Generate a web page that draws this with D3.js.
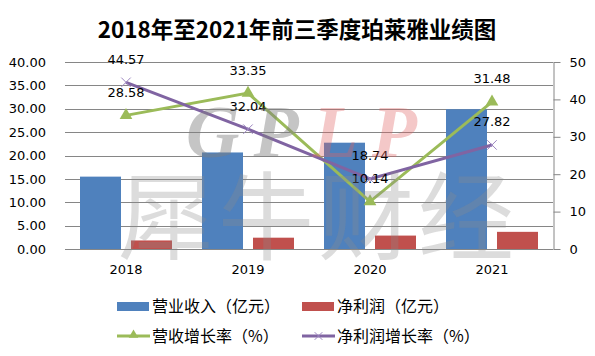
<!DOCTYPE html>
<html><head><meta charset="utf-8">
<script src="https://cdn.jsdelivr.net/npm/d3@7"></script>
<style>body{margin:0;background:#fff}svg{display:block}</style>
</head><body><svg id="c" width="595" height="356"></svg>
<script>
const categories = ["2018", "2019", "2020", "2021"];
const revenue = [15.48, 20.65, 22.74, 29.90];        // 营业收入（亿元）
const netProfit = [1.83, 2.42, 2.87, 3.67];          // 净利润（亿元）
const revenueGrowth = [28.58, 33.35, 10.14, 31.48];  // 营收增长率（%） – primary axis
const profitGrowth = [44.57, 32.04, 18.74, 27.82];   // 净利润增长率（%） – secondary axis
const leftTicks = [0, 5, 10, 15, 20, 25, 30, 35, 40];
const rightTicks = [0, 10, 20, 30, 40, 50];
const seriesNames = ["营业收入（亿元）", "净利润（亿元）", "营收增长率（%）", "净利润增长率（%）"];

const C = {blue:"#4f81bd", red:"#c0504d", green:"#9bbb59", purple:"#8064a2", grid:"#868686"};
const svg = d3.select("#c");
const L = 65, R = 553, T = 62, B = 249;
const num = "'DejaVu Sans', Verdana, sans-serif";
const cjk = "'Noto Sans CJK SC', sans-serif";

const x = d3.scaleBand().domain(categories).range([L, R]);
const sub = d3.scaleBand().domain(["rev","np"]).range([15, x.bandwidth() - 15]).paddingInner(0.196);
const yL = d3.scaleLinear().domain([0, 40]).range([B, T]);
const yR = d3.scaleLinear().domain([0, 50]).range([B, T]);

// title
svg.append("text").attr("x", 297).attr("y", 38).attr("text-anchor","middle")
  .attr("font-family", cjk).attr("font-weight","bold").attr("font-size", 22.5).attr("fill","#000")
  .text("2018年至2021年前三季度珀莱雅业绩图");

// gridlines
svg.append("g").selectAll("line").data(leftTicks).join("line")
  .attr("x1", L).attr("x2", R).attr("y1", d => Math.round(yL(d)) + 0.5).attr("y2", d => Math.round(yL(d)) + 0.5)
  .attr("stroke", C.grid).attr("stroke-width", 1);

// left axis
const gl = svg.append("g").attr("transform", `translate(${L},0)`)
  .call(d3.axisLeft(yL).tickValues(leftTicks).tickFormat(d3.format(".2f")).tickSize(0).tickPadding(19));
gl.select(".domain").remove();
gl.selectAll("text").attr("font-family", num).attr("font-size", 13).attr("fill", "#000");

// right axis
const gr = svg.append("g").attr("transform", `translate(${R + 0.5},0)`)
  .call(d3.axisRight(yR).tickValues(rightTicks).tickSize(7).tickSizeOuter(0).tickPadding(9));
gr.select(".domain").attr("stroke", C.grid);
gr.selectAll("line").attr("stroke", C.grid);
gr.selectAll("text").attr("font-family", num).attr("font-size", 13).attr("fill", "#000");

// x axis labels
const gx = svg.append("g").attr("transform", `translate(0,${B})`)
  .call(d3.axisBottom(x).tickSize(0).tickPadding(16));
gx.select(".domain").remove();
gx.selectAll("text").attr("font-family", num).attr("font-size", 13).attr("fill", "#000");

// bars
const bars = svg.append("g");
bars.selectAll(".rev").data(categories).join("rect")
  .attr("x", (d) => x(d) + sub("rev")).attr("width", sub.bandwidth())
  .attr("y", (d, i) => yL(revenue[i])).attr("height", (d, i) => B - yL(revenue[i])).attr("fill", C.blue);
bars.selectAll(".np").data(categories).join("rect")
  .attr("x", (d) => x(d) + sub("np")).attr("width", sub.bandwidth())
  .attr("y", (d, i) => yL(netProfit[i])).attr("height", (d, i) => B - yL(netProfit[i])).attr("fill", C.red);

const cx = d => x(d) + x.bandwidth() / 2;

// lines
const lineG = d3.line().x((d, i) => cx(categories[i])).y(d => yL(d));
const lineP = d3.line().x((d, i) => cx(categories[i])).y(d => yR(d));
svg.append("path").datum(revenueGrowth).attr("d", lineG).attr("fill","none").attr("stroke", C.green).attr("stroke-width", 3);
svg.append("path").datum(profitGrowth).attr("d", lineP).attr("fill","none").attr("stroke", C.purple).attr("stroke-width", 3);

// markers
const tri = d3.symbol().type(d3.symbolTriangle).size(70);
svg.append("g").selectAll("path").data(revenueGrowth).join("path")
  .attr("d", tri).attr("transform", (d, i) => `translate(${cx(categories[i])},${yL(d)})`).attr("fill", C.green);
svg.append("g").selectAll("path").data(profitGrowth).join("path")
  .attr("d", d3.symbol().type(d3.symbolX).size(60))
  .attr("transform", (d, i) => `translate(${cx(categories[i])},${yR(d)})`)
  .attr("fill","none").attr("stroke", "#9c86c0").attr("stroke-width", 1);

// data labels
const lab = svg.append("g").attr("font-family", num).attr("font-size", 13).attr("fill","#000").attr("text-anchor","middle");
lab.selectAll(".g").data(revenueGrowth).join("text")
  .attr("x", (d, i) => cx(categories[i])).attr("y", d => yL(d) - 18.5).text(d => d.toFixed(2));
lab.selectAll(".p").data(profitGrowth).join("text")
  .attr("x", (d, i) => cx(categories[i])).attr("y", d => yR(d) - 18.5).text(d => d.toFixed(2));

// legend
const leg = svg.append("g").attr("font-family", cjk).attr("font-size", 16).attr("fill","#000");
const items = [
  {x:117, y:306, type:"rect", color:C.blue},
  {x:302, y:306, type:"rect", color:C.red},
  {x:117, y:336, type:"tri", color:C.green},
  {x:302, y:336, type:"x", color:C.purple}
];
items.forEach((it, k) => {
  const g = leg.append("g").attr("transform", `translate(${it.x},${it.y})`);
  if (it.type === "rect") {
    g.append("rect").attr("x", 0).attr("y", -4).attr("width", 32).attr("height", 9).attr("fill", it.color);
  } else {
    g.append("line").attr("x1", 0).attr("x2", 33).attr("y1", 0).attr("y2", 0).attr("stroke", it.color).attr("stroke-width", 3);
    if (it.type === "tri") {
      g.append("path").attr("d", d3.symbol().type(d3.symbolTriangle).size(40)).attr("transform","translate(16.5,-1)").attr("fill", it.color);
    } else {
      g.append("path").attr("d", d3.symbol().type(d3.symbolX).size(40)).attr("transform","translate(16.5,0)").attr("fill","none").attr("stroke","#9c86c0").attr("stroke-width",1);
    }
  }
  g.append("text").attr("x", 35).attr("y", 6).text(seriesNames[k]);
});

// watermark
const wm = svg.append("g").attr("pointer-events","none");
const gp = wm.append("text").attr("x", 186).attr("y", 157).attr("font-family","'Liberation Serif', serif")
  .attr("font-weight","bold").attr("font-style","italic").attr("font-size", 74).attr("letter-spacing", 14);
gp.append("tspan").attr("fill","#7f7f7f").attr("fill-opacity", 0.45).text("GP");
gp.append("tspan").attr("fill","#e06060").attr("fill-opacity", 0.35).text("LP");
wm.append("text").attr("x", 118).attr("y", 252).attr("font-family", cjk).attr("font-size", 96)
  .attr("letter-spacing", 4).attr("fill","#8c8c8c").attr("fill-opacity", 0.3).text("犀牛财经");
</script></body></html>
